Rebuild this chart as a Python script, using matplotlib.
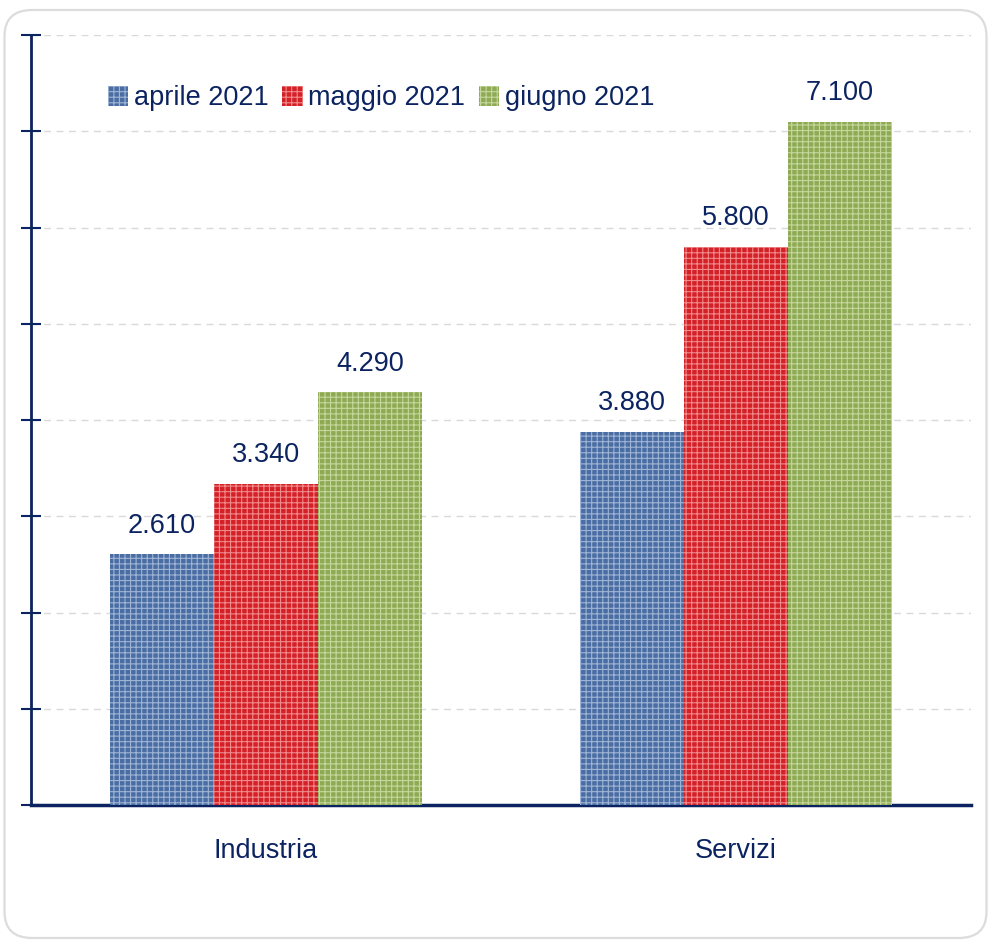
import matplotlib
matplotlib.use("Agg")
import matplotlib.pyplot as plt
import numpy as np
from matplotlib.patches import FancyBboxPatch

plt.rcParams["font.family"] = ["Liberation Sans", "DejaVu Sans"]

# data
categories = ["Industria", "Servizi"]
series = ["aprile 2021", "maggio 2021", "giugno 2021"]
values = [
    [2610, 3880],
    [3340, 5800],
    [4290, 7100],
]
colors = ["#4a6ea3", "#d42027", "#8eaa55"]
hatch_colors = ["#9fb4d4", "#f08a8c", "#c5d79c"]

navy = "#0b2360"

fig = plt.figure(figsize=(9.89, 9.40), dpi=100)

# rounded frame around the chart
frame = FancyBboxPatch((4.5 / 989, 2 / 940), 982 / 989, 928 / 940,
                       boxstyle="round,pad=0,rounding_size=0.028",
                       transform=fig.transFigure, facecolor="none",
                       edgecolor="#dcdcdc", linewidth=1.6, zorder=-1)
fig.patches.append(frame)

ax = fig.add_axes([31 / 989, 1 - 805 / 940, 940 / 989, 770 / 940])
ax.set_facecolor("none")

x = np.arange(len(categories))
w = 0.221
plt.rcParams["hatch.linewidth"] = 0.8
for i, (name, vals) in enumerate(zip(series, values)):
    pos = x + (i - 1) * w
    bars = ax.bar(pos, vals, w, color=colors[i], edgecolor=hatch_colors[i],
                  linewidth=0, hatch="+++", label=name, zorder=3)
    for xp, v in zip(pos, vals):
        ax.annotate(f"{v:,}".replace(",", "."), (xp, v), xytext=(0, 11),
                    textcoords="offset points", ha="center", va="bottom",
                    fontsize=19.5, color=navy)

ax.set_xlim(-0.5, 1.5)
ax.set_ylim(0, 8000)
ax.set_yticks(np.arange(0, 8001, 1000))
ax.set_yticklabels([])
ax.tick_params(axis="y", direction="inout", length=14, width=1.5, color=navy)
ax.yaxis.grid(True, linestyle=(0, (5, 4)), color="#d9d9d9", linewidth=1)
ax.set_axisbelow(True)

ax.set_xticks(x)
ax.set_xticklabels(categories, fontsize=19.5, color=navy)
ax.tick_params(axis="x", length=0, pad=24)

for s in ["top", "right"]:
    ax.spines[s].set_visible(False)
ax.spines["left"].set_color(navy)
ax.spines["left"].set_linewidth(2)
ax.spines["bottom"].set_color(navy)
ax.spines["bottom"].set_linewidth(2.5)

leg = ax.legend(loc="center left", bbox_to_anchor=(0.07, 0.918), ncol=3,
                frameon=False, fontsize=19.5, handlelength=0.75, handleheight=0.75,
                handletextpad=0.22, columnspacing=0.5, borderaxespad=0)
for t in leg.get_texts():
    t.set_color(navy)

fig.savefig("out.png", dpi=100)
